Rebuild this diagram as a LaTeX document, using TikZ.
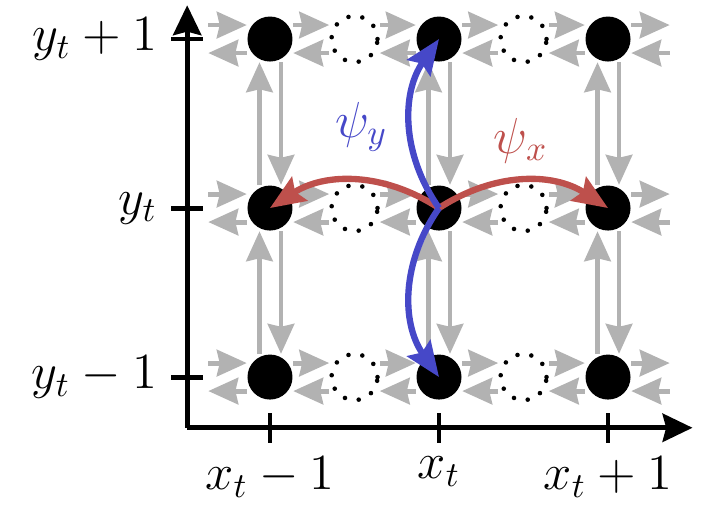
\documentclass[tikz,border=0pt]{standalone}
\usetikzlibrary{arrows.meta}
\definecolor{psiblue}{RGB}{70,72,200}
\definecolor{psired}{RGB}{190,80,76}
\begin{document}
\begin{tikzpicture}[x=0.845cm, y=0.845cm, font=\Large,
    site/.style={circle, fill=black, minimum size=0.45cm, inner sep=0pt},
    hole/.style={circle, draw=black, line width=1.3pt, dash pattern=on 0pt off 4pt, line cap=round, minimum size=0.46cm, inner sep=0pt},
    flow/.style={gray!60, line width=1.4pt, -{Stealth[length=8.5pt, width=7.5pt, inset=0.8pt]}},
    axis/.style={line width=1.4pt, -{Stealth[length=8.5pt, width=8pt, inset=1pt]}},
    psi/.style={line width=1.8pt, -{Stealth[length=10pt, width=8pt, inset=1.5pt]}}]

    \useasboundingbox (-3.195, -1.645) rectangle (5.325, 4.462);

    \foreach \j in {0, 2, 4} {
      \foreach \i in {0, 2, 4}
        \node[site] (s\i\j) at (\i, \j) {};
      \foreach \i in {1, 3}
        \node[hole] (s\i\j) at (\i, \j) {};
      \coordinate (w\j) at (-0.73, \j);
      \coordinate (e\j) at (4.73, \j);
    }

    \foreach \j in {0, 2, 4} {
      \draw[flow] ([yshift=0.14cm]w\j) -- ([yshift=0.14cm]s0\j.west);
      \draw[flow] ([yshift=-0.14cm]s0\j.west) -- ([yshift=-0.14cm]w\j);
      \foreach \i/\k in {0/1, 1/2, 2/3, 3/4} {
        \draw[flow] ([yshift=0.14cm]s\i\j.east) -- ([yshift=0.14cm]s\k\j.west);
        \draw[flow] ([yshift=-0.14cm]s\k\j.west) -- ([yshift=-0.14cm]s\i\j.east);
      }
      \draw[flow] ([yshift=0.14cm]s4\j.east) -- ([yshift=0.14cm]e\j);
      \draw[flow] ([yshift=-0.14cm]e\j) -- ([yshift=-0.14cm]s4\j.east);
    }
    \foreach \i in {0, 2, 4}
      \foreach \j/\k in {0/2, 2/4} {
        \draw[flow] ([xshift=-0.105cm]s\i\j.north) -- ([xshift=-0.105cm]s\i\k.south);
        \draw[flow] ([xshift=0.11cm]s\i\k.south) -- ([xshift=0.11cm]s\i\j.north);
      }

    \coordinate (o) at (-0.98, -0.6);
    \coordinate (xend) at (5, -0.6);
    \coordinate (yend) at (-0.98, 4.4);
    \draw[axis] (o) -- (xend);
    \draw[axis] (o) -- (yend);
    \foreach \i/\lab in {0/x_t - 1, 2/x_t, 4/x_t + 1}
      \draw[line width=1.4pt] (\i, -0.78) -- (\i, -0.42) node[pos=0, below] (xl\i) {$\lab$};
    \foreach \j/\lab in {0/y_t - 1, 2/y_t, 4/y_t + 1}
      \draw[line width=1.4pt] (-1.17, \j) -- (-0.79, \j) node[pos=0, left] (yl\j) {$\lab$};

    \draw[psi, psired] (s22.center) to[bend right=33] (s02.center);
    \draw[psi, psired] (s22.center) to[bend left=33] (s42.center);
    \draw[psi, psiblue] (s22.center) to[bend left=35] (s24.center);
    \draw[psi, psiblue] (s22.center) to[bend right=35] (s20.center);
    \node[psiblue] (py) at (1.08, 2.96) {$\psi_y$};
    \node[psired] (px) at (2.97, 2.80) {$\psi_x$};

\end{tikzpicture}
\end{document}
